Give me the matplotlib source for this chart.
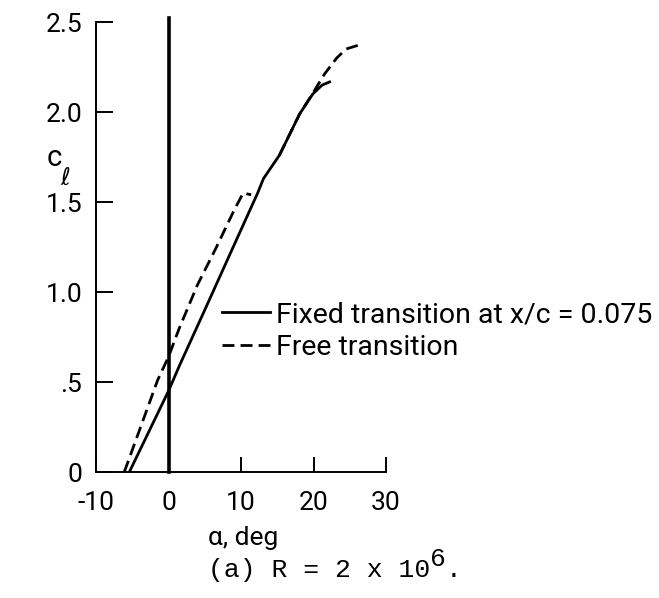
import matplotlib
matplotlib.use('Agg')
import matplotlib.pyplot as plt
from matplotlib.lines import Line2D

# fixed transition at x/c = 0.075 (solid)
alpha_fixed = [-5.4, 0.0, 1.5, 5.0, 8.7, 12.3, 13.1, 15.3, 18.1, 19.9, 21.2, 22.4]
cl_fixed = [0.0, 0.45, 0.59, 0.90, 1.23, 1.55, 1.63, 1.76, 1.99, 2.10, 2.15, 2.17]

# free transition (dashed), two runs
alpha_free_1 = [-6.1, -1.5, 0.0, 1.5, 4.0, 6.5, 9.0, 10.3, 11.4]
cl_free_1 = [0.0, 0.51, 0.64, 0.80, 1.04, 1.24, 1.45, 1.55, 1.54]
alpha_free_2 = [15.3, 18.1, 20.0, 21.5, 23.2, 24.5, 26.1]
cl_free_2 = [1.76, 1.99, 2.11, 2.21, 2.30, 2.35, 2.37]

x_ticks = [-10, 0, 10, 20, 30]
x_labels = ['-10', '0', '10', '20', '30']
y_ticks = [0, 0.5, 1.0, 1.5, 2.0, 2.5]
y_labels = ['0', '.5', '1.0', '1.5', '2.0', '2.5']

plt.rcParams['font.family'] = ['Roboto', 'DejaVu Sans']
MONO = ['Liberation Mono', 'DejaVu Sans Mono']

W, H = 659, 598
fig = plt.figure(figsize=(W / 100, H / 100), dpi=100)
ax = fig.add_axes([96 / W, 1 - 472 / H, 290 / W, 450 / H])

dash = (0, (4.3, 2.2))
ax.plot(alpha_fixed, cl_fixed, color='k', lw=2.0, solid_capstyle='butt')
ax.plot(alpha_free_1, cl_free_1, color='k', lw=2.0, linestyle=dash)
ax.plot(alpha_free_2, cl_free_2, color='k', lw=2.0, linestyle=dash)
# alpha = 0 reference line, runs a little past the top of the axis
ax.plot([0, 0], [0, 2.52], color='k', lw=2.6, clip_on=False)

ax.set_xlim(-10, 30)
ax.set_ylim(0, 2.5)
for s in ['top', 'right']:
    ax.spines[s].set_visible(False)
for s in ['left', 'bottom']:
    ax.spines[s].set_linewidth(1.4)

ax.set_xticks(x_ticks)
ax.set_xticklabels(x_labels)
ax.set_yticks(y_ticks)
ax.set_yticklabels(y_labels)
ax.tick_params(axis='x', direction='in', length=11, width=1.4, pad=14, labelsize=19)
ax.tick_params(axis='y', direction='in', length=12, width=1.4, pad=10, labelsize=19)

fig.text(243 / W, 1 - 538 / H, 'α, deg', ha='center', va='center', fontsize=19)
fig.text(47 / W, 1 - 158 / H, 'c', ha='left', va='center', fontsize=21)
fig.text(60 / W, 1 - 178 / H, 'ℓ', ha='left', va='center', fontsize=17,
         family=['DejaVu Sans'])

# caption in typewriter face, full size raised exponent
char_w = 0.6 * 19 * 100 / 72
cap = '(a) R = 2 x 10'
x0 = 208
fig.text(x0 / W, 1 - 577 / H, cap, ha='left', va='baseline', fontsize=19, family=MONO)
fig.text((x0 + len(cap) * char_w) / W, 1 - 566 / H, '6', ha='left', va='baseline',
         fontsize=19, family=MONO)
fig.text((x0 + (len(cap) + 1) * char_w) / W, 1 - 577 / H, '.', ha='left', va='baseline',
         fontsize=19, family=MONO)

handles = [Line2D([], [], color='k', lw=2.0),
           Line2D([], [], color='k', lw=2.0, linestyle=dash)]
ax.legend(handles, ['Fixed transition at x/c = 0.075', 'Free transition'],
          loc='upper left', bbox_to_anchor=(222 / W, 1 - 301 / H),
          bbox_transform=fig.transFigure, frameon=False, fontsize=20.5,
          handlelength=1.7, handletextpad=0.2, labelspacing=0.2,
          borderpad=0, borderaxespad=0)

fig.savefig('out.png', dpi=100)
